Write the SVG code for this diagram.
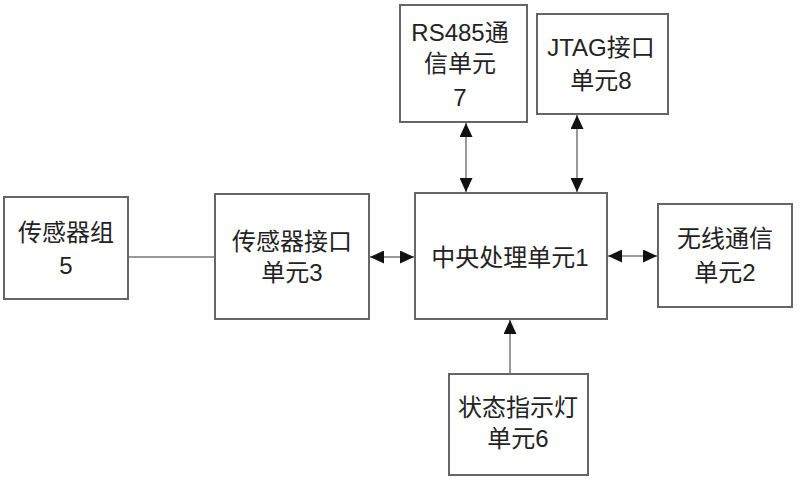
<svg xmlns="http://www.w3.org/2000/svg" width="800" height="483" viewBox="0 0 800 483">
<defs>
<style>
.box{fill:#fff;stroke:#666;stroke-width:2}
.ln{stroke:#999;stroke-width:2;fill:none}
.t{font-family:"Liberation Sans","Noto Sans CJK SC",sans-serif;font-size:24px;fill:#222;text-anchor:middle;dominant-baseline:central}
</style>
<marker id="ah" viewBox="0 0 10 10" refX="10" refY="5" markerWidth="14" markerHeight="13" markerUnits="userSpaceOnUse" orient="auto-start-reverse" preserveAspectRatio="none">
<path d="M0,0 L10,5 L0,10 z" fill="#111"/>
</marker>
</defs>
<rect width="800" height="483" fill="#fff"/>
<g id="connectors">
<line class="ln" x1="128" y1="257" x2="215" y2="257"/>
<line class="ln" x1="370" y1="257" x2="414" y2="257" marker-start="url(#ah)" marker-end="url(#ah)"/>
<line class="ln" x1="608" y1="256" x2="657" y2="256" marker-start="url(#ah)" marker-end="url(#ah)"/>
<line class="ln" x1="466" y1="123" x2="466" y2="192" marker-start="url(#ah)" marker-end="url(#ah)"/>
<line class="ln" x1="577" y1="115" x2="577" y2="192" marker-start="url(#ah)" marker-end="url(#ah)"/>
<line class="ln" x1="510" y1="374" x2="510" y2="320" marker-end="url(#ah)"/>
</g>
<g id="sensor-group">
<rect class="box" x="4" y="197" width="124" height="102"/>
<text class="t" x="66" y="232">传感器组</text>
<text class="t" x="66" y="265">5</text>
</g>
<g id="sensor-interface">
<rect class="box" x="215" y="194" width="154" height="125"/>
<text class="t" x="292" y="241">传感器接口</text>
<text class="t" x="292" y="272">单元3</text>
</g>
<g id="cpu">
<rect class="box" x="415" y="193" width="192" height="126"/>
<text class="t" x="510" y="257">中央处理单元1</text>
</g>
<g id="wireless">
<rect class="box" x="658" y="204" width="134" height="103"/>
<text class="t" x="725" y="238">无线通信</text>
<text class="t" x="725" y="272">单元2</text>
</g>
<g id="rs485">
<rect class="box" x="400" y="5" width="127" height="117"/>
<text class="t" x="460" y="32">RS485通</text>
<text class="t" x="460" y="63">信单元</text>
<text class="t" x="460" y="97">7</text>
</g>
<g id="jtag">
<rect class="box" x="537" y="14" width="131" height="100"/>
<text class="t" x="601" y="47">JTAG接口</text>
<text class="t" x="601" y="80">单元8</text>
</g>
<g id="status-led">
<rect class="box" x="449" y="374" width="139" height="101"/>
<text class="t" x="518" y="407">状态指示灯</text>
<text class="t" x="518" y="438">单元6</text>
</g>
</svg>
